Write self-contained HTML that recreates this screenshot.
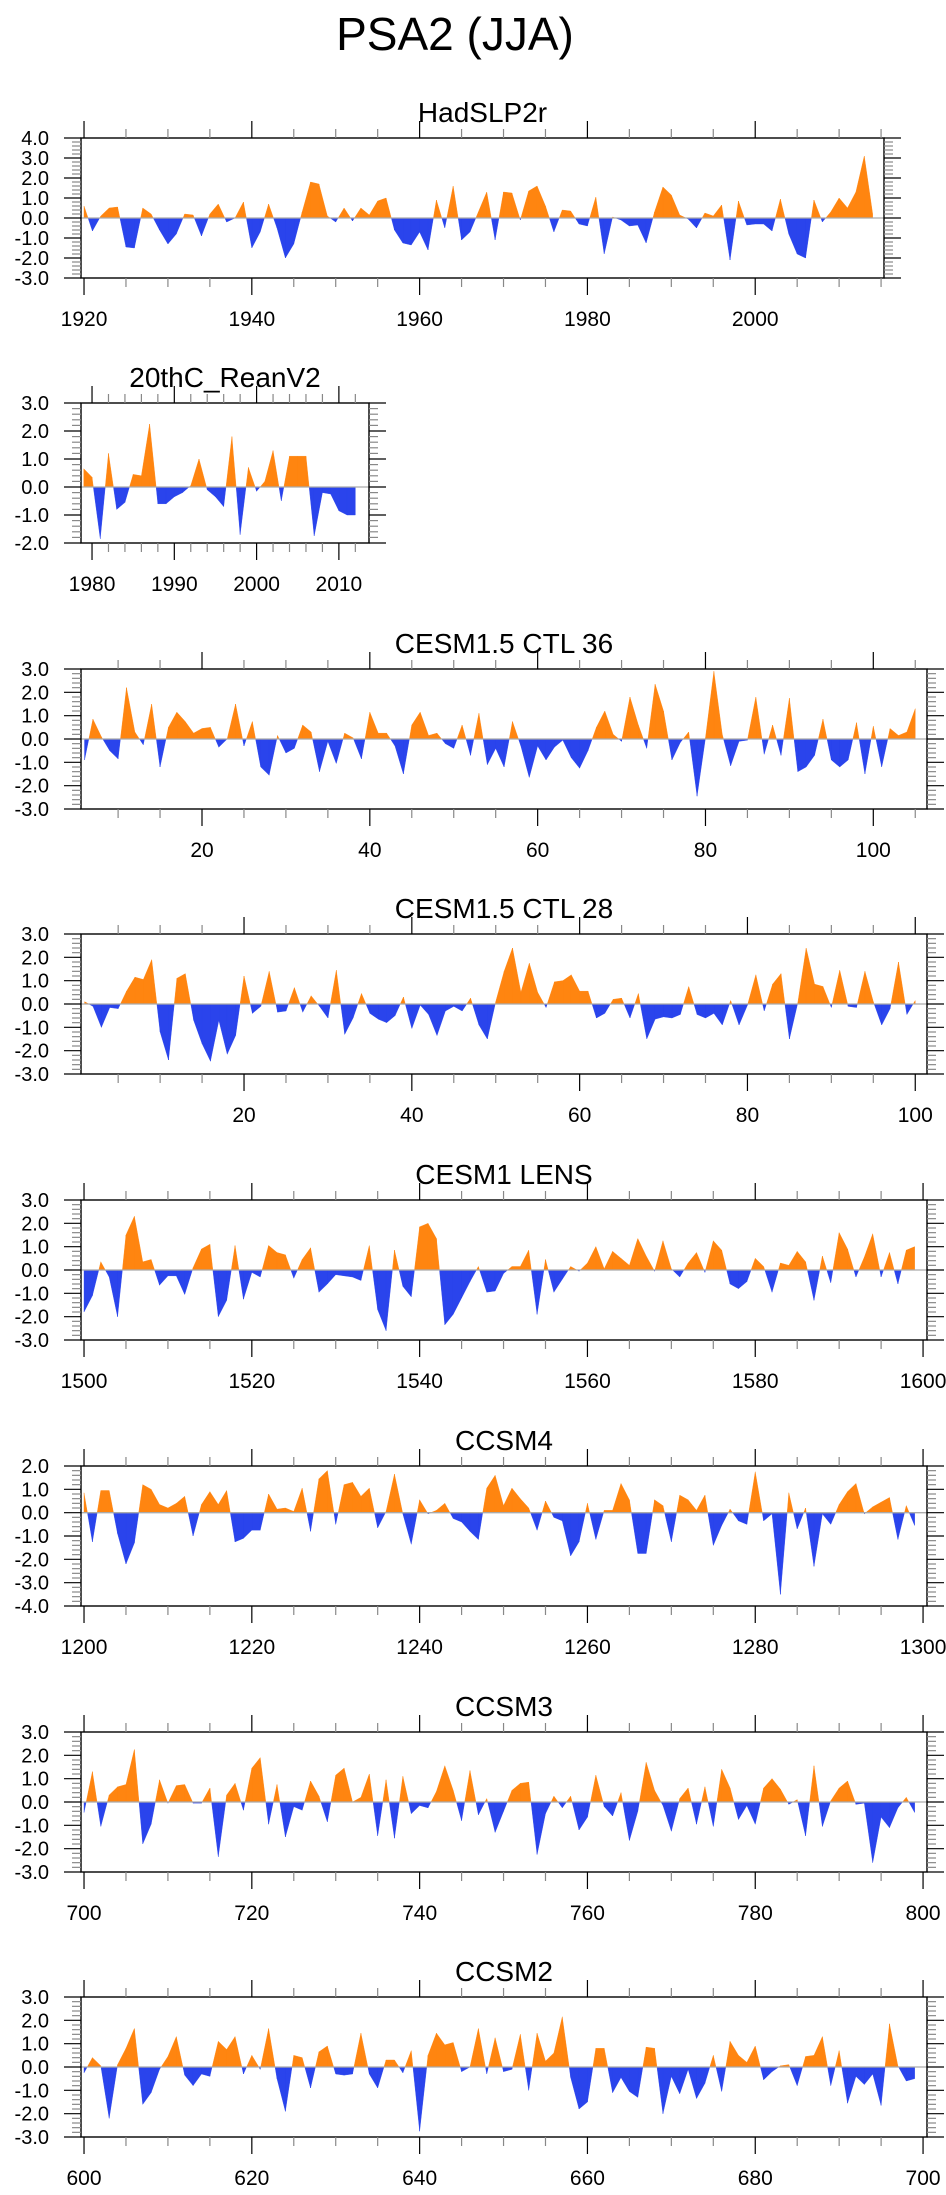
<!DOCTYPE html>
<html><head><meta charset="utf-8"><style>
html,body{margin:0;padding:0;background:#fff;}
svg{display:block;font-family:"Liberation Sans",sans-serif;}
</style></head><body>
<svg id="fig" width="946" height="2195" viewBox="0 0 946 2195">
<text x="455" y="50" font-size="46" text-anchor="middle">PSA2 (JJA)</text>
</svg>
<script>
const hadYears0 = 1920;
const hadVals = [0.6,-0.65,0.1,0.5,0.55,-1.45,-1.5,0.5,0.2,-0.6,-1.3,-0.8,0.2,0.15,-0.9,0.2,0.7,-0.2,0.0,0.8,-1.5,-0.7,0.7,-0.5,-2.0,-1.3,0.3,1.8,1.7,0.1,-0.2,0.5,-0.15,0.5,0.15,0.85,1.0,-0.6,-1.25,-1.35,-0.7,-1.6,0.9,-0.5,1.6,-1.1,-0.7,0.3,1.3,-1.1,1.3,1.25,-0.1,1.35,1.6,0.6,-0.7,0.4,0.35,-0.3,-0.4,1.05,-1.8,0.05,-0.1,-0.4,-0.35,-1.25,0.3,1.55,1.15,0.15,-0.05,-0.5,0.25,0.1,0.65,-2.1,0.85,-0.35,-0.3,-0.3,-0.65,0.95,-0.8,-1.8,-2.0,0.9,-0.2,0.3,1.0,0.5,1.3,3.1,0.2];
const reanYears0 = 1979;
const reanVals = [0.65,0.35,-1.85,1.2,-0.8,-0.55,0.45,0.4,2.25,-0.6,-0.6,-0.35,-0.2,0.05,1.0,-0.1,-0.35,-0.7,1.8,-1.7,0.7,-0.15,0.2,1.3,-0.5,1.1,1.1,1.1,-1.75,-0.2,-0.25,-0.85,-1.0,-1.0];
const ctl36Years0 = 6;
const ctl36Vals = [-0.9,0.85,0.1,-0.5,-0.85,2.2,0.3,-0.25,1.5,-1.2,0.5,1.15,0.75,0.25,0.45,0.5,-0.35,0.0,1.5,-0.3,0.75,-1.2,-1.55,0.15,-0.6,-0.4,0.6,0.3,-1.4,-0.1,-1.05,0.25,0.05,-0.85,1.15,0.25,0.25,-0.3,-1.5,0.6,1.15,0.15,0.25,-0.2,-0.4,0.6,-0.7,1.1,-1.1,-0.4,-1.2,0.75,-0.3,-1.65,-0.3,-0.9,-0.35,-0.05,-0.8,-1.25,-0.5,0.5,1.2,0.2,-0.1,1.8,0.6,-0.4,2.35,1.2,-0.9,-0.15,0.3,-2.45,0.05,2.9,0.2,-1.15,-0.1,-0.05,1.8,-0.65,0.6,-0.7,1.75,-1.4,-1.2,-0.7,0.85,-0.9,-1.2,-0.9,0.7,-1.5,0.55,-1.2,0.45,0.15,0.3,1.3];
const ctl28Years0 = 1;
const ctl28Vals = [0.1,-0.1,-1.0,-0.15,-0.2,0.55,1.15,1.05,1.9,-1.2,-2.4,1.1,1.3,-0.7,-1.7,-2.45,-0.7,-2.15,-1.35,1.2,-0.4,-0.1,1.4,-0.35,-0.3,0.7,-0.35,0.35,-0.1,-0.6,1.45,-1.3,-0.6,0.45,-0.4,-0.65,-0.8,-0.5,0.3,-1.05,-0.05,-0.45,-1.35,-0.3,-0.1,-0.3,0.25,-0.9,-1.5,0.1,1.4,2.4,0.5,1.75,0.5,-0.15,0.95,1.0,1.25,0.55,0.55,-0.6,-0.4,0.2,0.25,-0.6,0.45,-1.5,-0.65,-0.55,-0.6,-0.45,0.75,-0.45,-0.6,-0.4,-0.9,0.15,-0.9,-0.05,1.25,-0.3,0.85,1.3,-1.5,0.05,2.4,0.85,0.75,-0.15,1.45,-0.1,-0.15,1.4,0.1,-0.9,-0.2,1.8,-0.45,0.15];
const lensYears0 = 1500;
const lensVals = [-1.8,-1.1,0.35,-0.3,-2.0,1.5,2.3,0.35,0.45,-0.65,-0.25,-0.25,-1.05,0.1,0.9,1.1,-2.0,-1.3,1.05,-1.25,-0.1,-0.3,1.05,0.75,0.65,-0.35,0.45,0.95,-0.95,-0.6,-0.2,-0.25,-0.3,-0.45,1.05,-1.7,-2.6,0.85,-0.7,-1.15,1.85,2.0,1.35,-2.35,-1.9,-1.2,-0.5,0.15,-0.95,-0.9,-0.15,0.15,0.15,0.85,-1.9,0.45,-0.95,-0.4,0.15,-0.05,0.3,1.0,0.05,0.8,0.5,0.2,1.35,0.6,-0.05,1.25,0.05,-0.3,0.3,0.75,-0.1,1.25,0.85,-0.6,-0.8,-0.5,0.5,0.15,-0.95,0.3,0.2,0.8,0.35,-1.3,0.6,-0.55,1.6,0.9,-0.3,0.55,1.55,-0.3,0.75,-0.6,0.85,1.0];
const ccsm4Years0 = 1200;
const ccsm4Vals = [0.85,-1.25,0.95,0.95,-0.9,-2.2,-1.3,1.2,1.0,0.35,0.2,0.4,0.7,-1.0,0.35,0.9,0.35,0.95,-1.25,-1.1,-0.75,-0.75,0.8,0.15,0.2,0.05,1.05,-0.8,1.45,1.8,-0.5,1.2,1.3,0.7,1.05,-0.65,0.05,1.65,-0.05,-1.35,0.55,-0.05,0.1,0.4,-0.25,-0.4,-0.8,-1.15,1.05,1.6,0.3,1.05,0.6,0.2,-0.75,0.5,-0.2,-0.35,-1.85,-1.25,0.4,-1.15,0.1,0.1,1.25,0.55,-1.75,-1.75,0.55,0.3,-1.25,0.75,0.55,0.1,0.75,-1.4,-0.55,0.15,-0.35,-0.5,1.75,-0.35,-0.05,-3.5,0.85,-0.7,0.2,-2.3,-0.05,-0.5,0.35,0.9,1.25,-0.05,0.25,0.45,0.65,-1.15,0.3,-0.55];
const ccsm3Years0 = 700;
const ccsm3Vals = [-0.45,1.3,-1.05,0.3,0.65,0.75,2.25,-1.8,-0.95,0.95,-0.05,0.7,0.75,-0.05,-0.05,0.6,-2.35,0.3,0.8,-0.35,1.45,1.9,-0.95,0.75,-1.5,-0.2,-0.35,0.9,0.25,-0.85,1.15,1.45,0.0,0.2,1.2,-1.45,0.95,-1.55,1.1,-0.5,-0.15,-0.25,0.45,1.55,0.5,-0.8,1.35,-0.55,0.15,-1.3,-0.4,0.5,0.8,0.85,-2.25,-0.5,0.25,-0.25,0.25,-1.2,-0.65,1.15,-0.2,-0.6,0.4,-1.65,-0.4,1.7,0.5,-0.15,-1.25,0.15,0.6,-0.95,0.65,-1.05,1.4,0.6,-0.75,-0.15,-0.95,0.6,1.0,0.55,-0.1,0.1,-1.45,1.55,-1.05,0.05,0.6,0.9,-0.1,-0.05,-2.6,-0.65,-1.1,-0.25,0.2,-0.45];
const ccsm2Years0 = 600;
const ccsm2Vals = [-0.25,0.4,0.05,-2.2,0.1,0.8,1.65,-1.6,-1.1,-0.1,0.45,1.3,-0.35,-0.8,-0.3,-0.4,1.1,0.75,1.3,-0.3,0.5,-0.1,1.65,-0.5,-1.9,0.5,0.4,-0.9,0.65,0.9,-0.3,-0.35,-0.3,1.45,-0.3,-0.9,0.3,0.3,-0.25,0.7,-2.75,0.5,1.45,0.95,1.05,-0.2,0.0,1.65,-0.3,1.25,-0.2,-0.1,1.4,-1.0,1.45,0.25,0.6,2.15,-0.45,-1.8,-1.5,0.8,0.8,-1.1,-0.45,-1.05,-1.3,0.85,0.8,-2.0,-0.4,-1.15,-0.1,-1.35,-0.7,0.5,-1.05,1.1,0.5,0.2,0.9,-0.55,-0.2,0.05,0.1,-0.8,0.45,0.5,1.3,-0.8,0.7,-1.55,-0.4,-0.75,-0.3,-1.65,1.85,0.05,-0.6,-0.5];
const panelTitles = ["HadSLP2r","20thC_ReanV2","CESM1.5 CTL 36","CESM1.5 CTL 28","CESM1 LENS","CCSM4","CCSM3","CCSM2"];

const NS='http://www.w3.org/2000/svg';
const svg=document.getElementById('fig');
function mk(tag,attrs,parent){const e=document.createElementNS(NS,tag);for(const k in attrs)e.setAttribute(k,attrs[k]);(parent||svg).appendChild(e);return e;}

const layouts=[
 {top:138,left:81,right:884,xmin:1919.64,xmax:2015.35,ymin:-3,ymax:4,maj:20,minr:5,tick0:1920,vals:hadVals,y0:hadYears0},
 {top:403,left:81,right:369,xmin:1978.66,xmax:2013.66,ymin:-2,ymax:3,maj:10,minr:2,tick0:1980,vals:reanVals,y0:reanYears0},
 {top:669,left:81,right:927,xmin:5.58,xmax:106.4,ymin:-3,ymax:3,maj:20,minr:5,tick0:20,vals:ctl36Vals,y0:ctl36Years0},
 {top:934,left:81,right:927,xmin:0.57,xmax:101.4,ymin:-3,ymax:3,maj:20,minr:5,tick0:20,vals:ctl28Vals,y0:ctl28Years0},
 {top:1200,left:81,right:927,xmin:1499.64,xmax:1600.47,ymin:-3,ymax:3,maj:20,minr:5,tick0:1500,vals:lensVals,y0:lensYears0},
 {top:1466,left:81,right:927,xmin:1199.64,xmax:1300.47,ymin:-4,ymax:2,maj:20,minr:5,tick0:1200,vals:ccsm4Vals,y0:ccsm4Years0},
 {top:1732,left:81,right:927,xmin:699.64,xmax:800.47,ymin:-3,ymax:3,maj:20,minr:5,tick0:700,vals:ccsm3Vals,y0:ccsm3Years0},
 {top:1997,left:81,right:927,xmin:599.64,xmax:700.47,ymin:-3,ymax:3,maj:20,minr:5,tick0:600,vals:ccsm2Vals,y0:ccsm2Years0}
];
const H=140;
layouts.forEach((L,pi)=>{
  const g=mk('g',{});
  
  
  const bot=L.top+H;
  const xs=v=>L.left+(v-L.xmin)/(L.xmax-L.xmin)*(L.right-L.left);
  const ys=v=>L.top+(L.ymax-v)/(L.ymax-L.ymin)*H;
  const t=mk('text',{x:(L.left+L.right)/2,y:L.top-16,'font-size':28,'text-anchor':'middle'},g);
  t.textContent=panelTitles[pi];
  
  
  // build fill polygons split at zero
  const pts=L.vals.map((v,i)=>[xs(L.y0+i),v]);
  const z=ys(0);
  let posD='',negD='';
  for(let i=0;i<pts.length-1;i++){
    const [x1,v1]=pts[i],[x2,v2]=pts[i+1];
    const segs=[];
    if((v1>=0)===(v2>=0)) segs.push([x1,v1,x2,v2]);
    else{const xc=x1+(x2-x1)*(v1/(v1-v2));segs.push([x1,v1,xc,0]);segs.push([xc,0,x2,v2]);}
    segs.forEach(s=>{
      const d=`M${s[0]},${z}L${s[0]},${ys(s[1])}L${s[2]},${ys(s[3])}L${s[2]},${z}Z`;
      if(s[1]+s[3]>=0) posD+=d; else negD+=d;
    });
  }
  const pp=mk('path',{d:posD,fill:'#ff8510',stroke:'#ff8510','stroke-width':0.4},g);
  
  
  const np=mk('path',{d:negD,fill:'#2a44ec',stroke:'#2a44ec','stroke-width':0.4},g);
  
  
  const zl=mk('line',{x1:L.left,x2:L.right,y1:z,y2:z,stroke:'#aaa','stroke-width':1.3},g);
  
  
  const fr=mk('rect',{x:L.left,y:L.top,width:L.right-L.left,height:H,fill:'none',stroke:'#000','stroke-width':1.4},g);
  
  
  // x ticks
  for(let v=Math.ceil(L.xmin/L.minr)*L.minr;v<=L.xmax;v+=L.minr){
    const x=xs(v);const major=((v-L.tick0)%L.maj+L.maj)%L.maj===0;
    const len=major?17:9;const col=major?'#000':'#888';
    mk('line',{x1:x,x2:x,y1:L.top,y2:L.top-len,stroke:col,'stroke-width':1.2},g);
    mk('line',{x1:x,x2:x,y1:bot,y2:bot+len,stroke:col,'stroke-width':1.2},g);
    if(major){const tx=mk('text',{x:x,y:bot+48,'font-size':21,'text-anchor':'middle'},g);tx.textContent=String(v);
      
      }
  }
  // y ticks
  for(let k=Math.round(L.ymin*5);k<=Math.round(L.ymax*5);k++){
    const v=k/5;const y=ys(v);const major=k%5===0;
    const len=major?17:9;const col=major?'#000':'#888';
    mk('line',{x1:L.left,x2:L.left-len,y1:y,y2:y,stroke:col,'stroke-width':1.2},g);
    mk('line',{x1:L.right,x2:L.right+len,y1:y,y2:y,stroke:col,'stroke-width':1.2},g);
    if(major){const ty=mk('text',{x:49,y:y+7,'font-size':20,'text-anchor':'end'},g);ty.textContent=v.toFixed(1);
      
      }
  }
});
</script>
</body></html>
